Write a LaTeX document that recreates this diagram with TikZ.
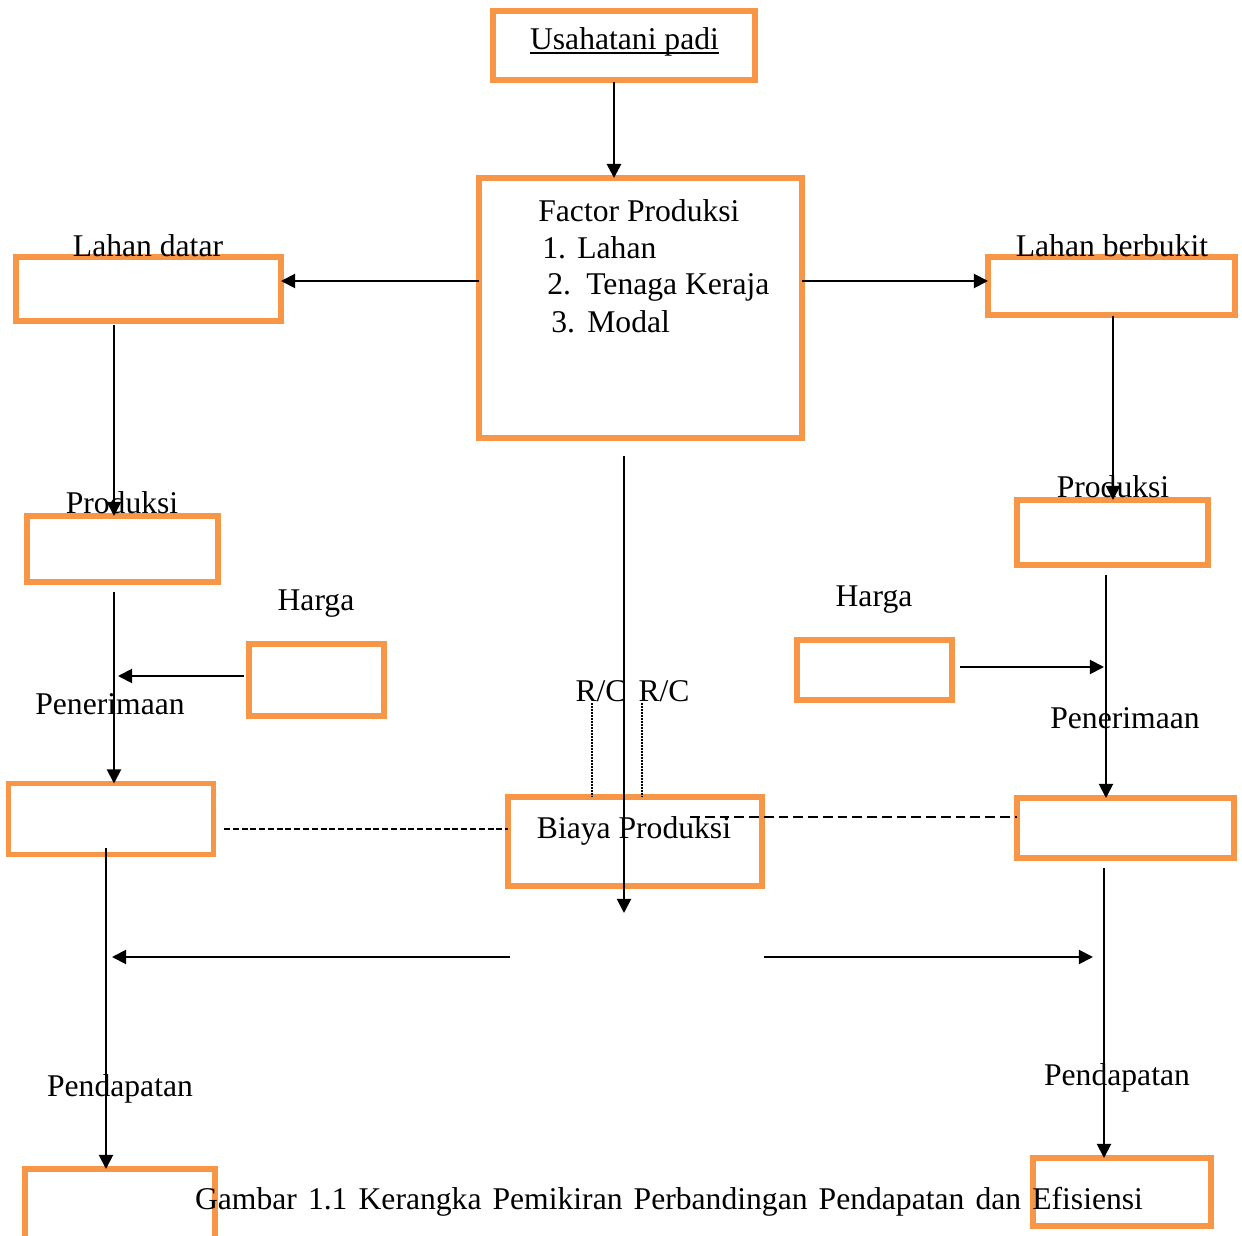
\documentclass[tikz,border=0pt]{standalone}
\usepackage{fontspec}
\setmainfont{Liberation Serif}
\usetikzlibrary{arrows.meta,fit}
\definecolor{boxorange}{HTML}{F79646}
\newsavebox\ulbox
\newcommand{\thickul}[1]{\sbox\ulbox{#1}\usebox\ulbox\llap{\rule[-2.4pt]{\wd\ulbox}{1.1pt}}}
\tikzset{
  x=0.02cm, y=-0.02cm,
  box/.style={draw=boxorange, line width=3pt, inner sep=0pt, outer sep=0pt, rectangle},
  lbl/.style={font=\fontsize{18}{21}\selectfont, inner sep=0pt, anchor=base},
  arr/.style={line width=1.1pt, -{Triangle[length=8pt,width=8pt]}},
  dashL/.style={line width=0.7pt, dash pattern=on 3.4pt off 1.6pt},
  dashR/.style={line width=0.8pt, dash pattern=on 5.6pt off 2.8pt},
  dotline/.style={line width=1.2pt, dash pattern=on 1.1pt off 0.6pt}
}
\begin{document}
\begin{tikzpicture}
\useasboundingbox (0,0) rectangle (1242,1236);
\begin{scope}
\clip (0,0) rectangle (1242,1236);
% boxes
\node[box, fit={(493,11) (755,80)}] (usaha) {};
\node[box, fit={(479,178) (802,438)}] (factor) {};
\node[box, fit={(16,257) (281,321)}] (ldatar) {};
\node[box, fit={(988,257) (1235,315)}] (lberbukit) {};
\node[box, fit={(27,516) (218,582)}] (prodL) {};
\node[box, fit={(1017,500) (1208,565)}] (prodR) {};
\node[box, fit={(249,644) (384,716)}] (hargaL) {};
\node[box, fit={(797,640) (952,700)}] (hargaR) {};
\node[box, fit={(8.5,783.5) (213.5,854.5)}] (penL) {};
\node[box, fit={(1017,798) (1234,858)}] (penR) {};
\node[box, fit={(508,797) (762,886)}] (biaya) {};
\node[box, fit={(25,1169) (215,1270)}] (pendL) {};
\node[box, fit={(1033,1158) (1211,1226)}] (pendR) {};

% texts
\node[lbl] (tusaha) at (624.5,50) {\thickul{Usahatani padi}};
\node[lbl, anchor=base west] (tfactor) at (538,222) {Factor Produksi};
\node[lbl, anchor=base west] (tf1) at (542,259) {\makebox[0.70cm][l]{1.}Lahan};
\node[lbl, anchor=base west] (tf2) at (547,295) {\makebox[0.78cm][l]{2.}Tenaga Keraja};
\node[lbl, anchor=base west] (tf3) at (551,333) {\makebox[0.72cm][l]{3.}Modal};
\node[lbl] (tldatar) at (148,257) {Lahan datar};
\node[lbl] (tlberbukit) at (1112,257) {Lahan berbukit};
\node[lbl] (tprodL) at (122,514) {Produksi};
\node[lbl] (tprodR) at (1113,498) {Produksi};
\node[lbl] (thargaL) at (316,611) {Harga};
\node[lbl] (thargaR) at (874,607) {Harga};
\node[lbl] (tpenL) at (110,715) {Penerimaan};
\node[lbl] (tpenR) at (1125,729) {Penerimaan};
\node[lbl] (trc1) at (601,702) {R/C};
\node[lbl] (trc2) at (664,702) {R/C};
\node[lbl] (tbiaya) at (634,839) {Biaya Produksi};
\node[lbl] (tpendL) at (120,1096) {Pendapatan};
\node[lbl] (tpendR) at (1117,1085) {Pendapatan};
\node[lbl] (caption) at (669,1209) {\makebox[18.96cm][s]{Gambar 1.1 Kerangka Pemikiran Perbandingan Pendapatan dan Efisiensi}};

% connectors
\coordinate (c1) at (614,82);
\draw[arr, line width=1.6pt] (c1) -- (c1 |- factor.north);
\draw[arr] (factor.west |- 0,281) -- (ldatar.east |- 0,281);
\draw[arr] (factor.east |- 0,281) -- (lberbukit.west |- 0,281);
\coordinate (c2) at (114,325);
\draw[arr] (c2) -- (c2 |- prodL.north);
\coordinate (c3) at (1113,316);
\draw[arr] (c3) -- (c3 |- prodR.north);
\coordinate (c4) at (114,592);
\draw[arr] (c4) -- (c4 |- penL.north);
\coordinate (c5) at (118,676);
\draw[arr] (hargaL.west |- c5) ++(-5,0) -- (c5);
\coordinate (c6) at (1104,667);
\draw[arr] ([xshift=0.16cm]hargaR.east |- c6) -- (c6);
\coordinate (c7) at (1106,575);
\draw[arr] (c7) -- (c7 |- penR.north);
\coordinate (c8) at (624,456);
\coordinate (c9) at (624,913);
\draw[arr] (c8) -- (c9);
\coordinate (d1) at (592,703);
\coordinate (d2) at (642,703);
\draw[dotline] (d1) -- (d1 |- biaya.north);
\draw[dotline] (d2) -- (d2 |- biaya.north);
\coordinate (e1) at (224,829);
\draw[dashL] (e1) -- (e1 -| biaya.west);
\coordinate (e2) at (690,817);
\draw[dashR] (e2) -- (e2 -| penR.west);
\coordinate (f1) at (510,957);
\coordinate (f2) at (112,957);
\draw[arr] (f1) -- (f2);
\coordinate (f3) at (764,957);
\coordinate (f4) at (1093,957);
\draw[arr] (f3) -- (f4);
\coordinate (g1) at (106,848);
\draw[arr] (g1) -- (g1 |- pendL.north);
\coordinate (g2) at (1104,868);
\draw[arr] (g2) -- (g2 |- pendR.north);
\end{scope}
\end{tikzpicture}
\end{document}
